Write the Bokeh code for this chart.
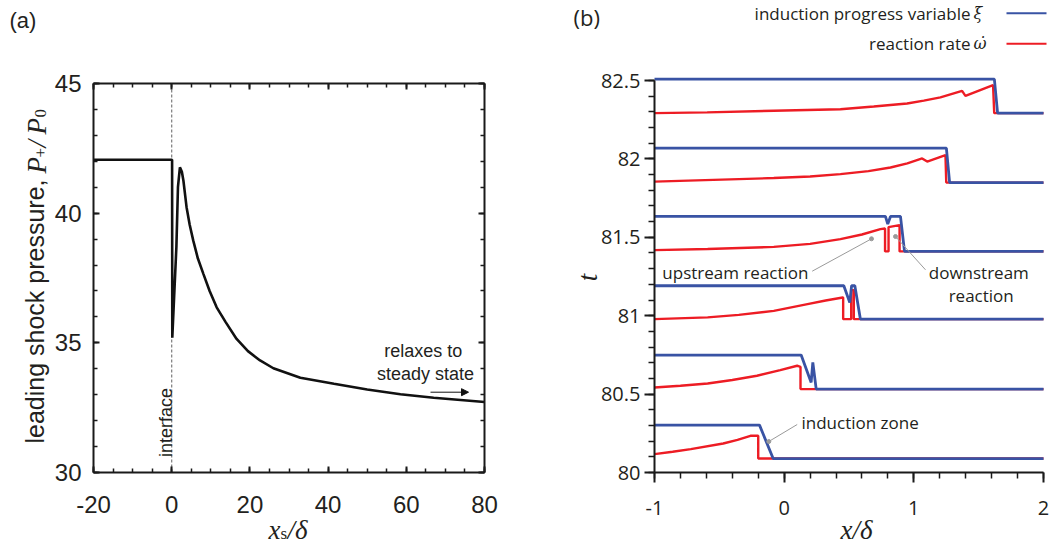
import numpy as np
from math import pi
from bokeh.plotting import figure
from bokeh.layouts import row
from bokeh.models import Range1d, LinearAxis, FixedTicker, Label, Arrow, NormalHead
from bokeh.embed import file_html
from bokeh.resources import INLINE

# ---------------- panel (a): leading shock pressure ----------------
xs_shock = [-20, 0.1, 0.15, 0.6, 1.2, 1.6, 2.1, 2.6, 3.0, 3.8, 4.6, 5.5, 6.7, 8.1, 9.7,
            11.5, 13.8, 16.6, 19.5, 22.6, 26, 32.9, 41.5, 50, 58.5, 67, 80]
p_shock = [42.06, 42.06, 35.2, 36.7, 38.7, 41.0, 41.77, 41.6, 41.25, 40.23, 39.55, 38.95,
           38.25, 37.66, 37.0, 36.37, 35.8, 35.15, 34.68, 34.32, 34.02, 33.65, 33.42,
           33.2, 33.02, 32.88, 32.72]
a_xticks = [-20, 0, 20, 40, 60, 80]
a_xtick_labels = ["-20", "0", "20", "40", "60", "80"]
a_yticks = [30, 35, 40, 45]
a_ytick_labels = ["30", "35", "40", "45"]
interface_x = 0

# ---------------- panel (b): snapshots ----------------
blue_x1 = [-1, -0.19, -0.085, 2]
blue_y1 = [80.302, 80.302, 80.089, 80.089]
red_x1 = [-1, -0.86, -0.72, -0.47, -0.36, -0.26, -0.2, -0.2, 2]
red_y1 = [80.117, 80.132, 80.149, 80.185, 80.208, 80.234, 80.234, 80.089, 80.089]

blue_x2 = [-1, 0.131, 0.208, 0.221, 0.247, 2]
blue_y2 = [80.749, 80.749, 80.574, 80.702, 80.532, 80.532]
red_x2 = [-1, -0.8, -0.59, -0.4, -0.21, -0.03, 0.1, 0.12, 0.126, 0.126, 2]
red_y2 = [80.542, 80.553, 80.568, 80.59, 80.617, 80.653, 80.681, 80.675, 80.675,
          80.532, 80.532]

blue_x3 = [-1, 0.46, 0.506, 0.52, 0.545, 0.588, 2]
blue_y3 = [81.191, 81.191, 81.084, 81.191, 81.191, 80.978, 80.978]
red_x3 = [-1, -0.59, -0.35, -0.08, 0.18, 0.32, 0.452, 0.455, 0.455, 0.517, 0.517,
          0.537, 0.537, 2]
red_y3 = [80.978, 80.989, 81.005, 81.031, 81.074, 81.097, 81.116, 81.116, 80.978,
          80.978, 81.163, 81.163, 80.978, 80.978]

blue_x4 = [-1, 0.781, 0.799, 0.82, 0.897, 0.928, 2]
blue_y4 = [81.633, 81.633, 81.584, 81.633, 81.633, 81.41, 81.41]
red_x4 = [-1, -0.59, -0.08, 0.2, 0.434, 0.6, 0.742, 0.778, 0.778, 0.805, 0.805,
          0.89, 0.89, 2]
red_y4 = [81.418, 81.425, 81.439, 81.458, 81.488, 81.518, 81.552, 81.556, 81.41,
          81.41, 81.565, 81.578, 81.41, 81.41]

blue_x5 = [-1, 1.251, 1.276, 2]
blue_y5 = [82.069, 82.069, 81.849, 81.849]
red_x5 = [-1, -0.08, 0.2, 0.434, 0.65, 0.82, 0.95, 1.064, 1.103, 1.244, 1.25, 2]
red_y5 = [81.855, 81.878, 81.888, 81.903, 81.922, 81.945, 81.972, 82.003, 81.983,
          82.024, 81.849, 81.849]

blue_x6 = [-1, 1.621, 1.646, 2]
blue_y6 = [82.509, 82.509, 82.292, 82.292]
red_x6 = [-1, -0.594, -0.08, 0.434, 0.691, 0.948, 1.077, 1.205, 1.372, 1.398, 1.611,
          1.62, 2]
red_y6 = [82.292, 82.297, 82.307, 82.317, 82.334, 82.353, 82.372, 82.392, 82.434,
          82.402, 82.471, 82.292, 82.292]

b_xticks = [-1, 0, 1, 2]
b_xtick_labels = ["-1", "0", "1", "2"]
b_yticks = [80, 80.5, 81, 81.5, 82, 82.5]
b_ytick_labels = ["80", "80.5", "81", "81.5", "82", "82.5"]

legend_labels = ["induction progress variable", "reaction rate"]
legend_symbols = ["ξ", "ω\u0307"]
BLUE = "#3953a4"
RED = "#ed1c24"
INK = "#231f20"
GREY = "#9a9a9a"

# ---------------- layout helpers (canvas pixel -> data) ----------------
H = 552
W1 = 520
W2 = 530
# panel (a) axes box: x 93..484, y 83..472
def ax_(px):
    return -20 + (px - 93) * 100.0 / 391.0
def ay_(py):
    return 45 - (py - 83) * 15.0 / 389.0
# panel (b) axes: x=-1 at 654, 389px per 3 units; y=80 at 472, 156.8 px/unit
def bx_(px):
    return -1 + (px - 654) * 3.0 / 389.0
def by_(py):
    return 80 + (472 - py) / 156.8

SANS = "Liberation Sans"
SERIF = "Liberation Serif"

def lab(p, x, y, text, font, size, align="left", baseline="middle", angle=0,
        style="normal", color=INK):
    p.add_layout(Label(x=x, y=y, text=text, text_font=font, text_font_size=size,
                       text_align=align, text_baseline=baseline, angle=angle,
                       text_font_style=style, text_color=color))

# ================= panel (a) =================
p1 = figure(width=W1, height=H, x_range=Range1d(ax_(0), ax_(W1)), y_range=Range1d(ay_(H), ay_(0)),
            output_backend="svg", toolbar_location=None, x_axis_location=None, y_axis_location=None,
            min_border=0, min_border_left=0, min_border_right=0, min_border_top=0, min_border_bottom=0)
p1.grid.visible = False
p1.outline_line_color = None

a_bottom = LinearAxis(fixed_location=30, bounds=(-20, 80))
a_top = LinearAxis(fixed_location=45, bounds=(-20, 80))
a_left = LinearAxis(fixed_location=-20, bounds=(30, 45))
a_right = LinearAxis(fixed_location=80, bounds=(30, 45))
p1.add_layout(a_bottom, "below")
p1.add_layout(a_top, "above")
p1.add_layout(a_left, "left")
p1.add_layout(a_right, "right")
for ax in (a_bottom, a_top):
    ax.ticker = FixedTicker(ticks=a_xticks, minor_ticks=list(np.arange(-20, 81, 5)))
for ax in (a_left, a_right):
    ax.ticker = FixedTicker(ticks=a_yticks, minor_ticks=list(np.arange(30, 46, 1)))
for ax in (a_bottom, a_top, a_left, a_right):
    ax.axis_line_width = 2
    ax.axis_line_color = "#1a1a1a"
    ax.major_tick_in = 6
    ax.major_tick_out = 0
    ax.minor_tick_in = 4
    ax.minor_tick_out = 0
    ax.major_tick_line_width = 2
    ax.minor_tick_line_width = 1.5
    ax.major_tick_line_color = "#1a1a1a"
    ax.minor_tick_line_color = "#1a1a1a"
    ax.major_label_text_font = SANS
    ax.major_label_text_font_size = "24px"
    ax.major_label_text_color = INK
a_bottom.major_label_overrides = dict(zip(a_xticks, a_xtick_labels))
a_left.major_label_overrides = dict(zip(a_yticks, a_ytick_labels))
a_top.major_label_overrides = {t: "" for t in a_xticks}
a_right.major_label_overrides = {t: "" for t in a_yticks}
a_bottom.major_label_standoff = 23
a_left.major_label_standoff = 12

# dashed interface line, spanning the axes box only
p1.line([interface_x, interface_x], [a_yticks[0], a_yticks[-1]], line_color="#7a7a7a",
        line_dash="3 2", line_width=1.2)
p1.line(xs_shock, p_shock, line_color="#111111", line_width=2.6)

p1.add_layout(Arrow(end=NormalHead(size=7, line_color="#111111", fill_color="#111111", line_width=1),
                    x_start=ax_(430), y_start=ay_(391.7), x_end=ax_(468), y_end=ay_(391.7),
                    line_color="#111111", line_width=1))

lab(p1, ax_(422.7), ay_(350), "relaxes to", SANS, "18px", align="center")
lab(p1, ax_(425), ay_(373), "steady state", SANS, "18px", align="center")
lab(p1, ax_(165), ay_(422), "interface", SANS, "18px", align="center",
    baseline="alphabetic", angle=pi / 2)
lab(p1, ax_(9), ay_(20), "(a)", SANS, "22px")
# y axis label (sans text + italic serif math)
lab(p1, ax_(34), ay_(179), "leading shock pressure,", SANS, "25px", align="right",
    baseline="alphabetic", angle=pi / 2)
lab(p1, ax_(36), ay_(173), "P", SERIF, "27px", baseline="alphabetic", angle=pi / 2, style="italic")
lab(p1, ax_(40), ay_(157), "+", SERIF, "17px", baseline="alphabetic", angle=pi / 2)
lab(p1, ax_(36), ay_(147), "/", SERIF, "27px", baseline="alphabetic", angle=pi / 2, style="italic")
lab(p1, ax_(36), ay_(134), "P", SERIF, "27px", baseline="alphabetic", angle=pi / 2, style="italic")
lab(p1, ax_(40), ay_(117), "0", SERIF, "17px", baseline="alphabetic", angle=pi / 2)
# x axis label
lab(p1, ax_(268), ay_(529), "x", SERIF, "27px", baseline="alphabetic", style="italic")
lab(p1, ax_(280), ay_(533), "s", SERIF, "17px", baseline="alphabetic")
lab(p1, ax_(287), ay_(529), "/δ", SERIF, "27px", baseline="alphabetic", style="italic")

# ================= panel (b) =================
p2 = figure(width=W2, height=H, x_range=Range1d(bx_(W1), bx_(W1 + W2)), y_range=Range1d(by_(H), by_(0)),
            output_backend="svg", toolbar_location=None, x_axis_location=None, y_axis_location=None,
            min_border=0, min_border_left=0, min_border_right=0, min_border_top=0, min_border_bottom=0)
p2.grid.visible = False
p2.outline_line_color = None
b_bottom = LinearAxis(fixed_location=80, bounds=(-1, 2))
b_left = LinearAxis(fixed_location=-1, bounds=(80, 82.5))
p2.add_layout(b_bottom, "below")
p2.add_layout(b_left, "left")
b_bottom.ticker = FixedTicker(ticks=b_xticks, minor_ticks=[round(v, 2) for v in np.arange(-1, 2.01, 0.2)])
b_left.ticker = FixedTicker(ticks=b_yticks, minor_ticks=[round(v, 2) for v in np.arange(80, 82.51, 0.1)])
b_bottom.major_label_overrides = dict(zip(b_xticks, b_xtick_labels))
b_left.major_label_overrides = dict(zip(b_yticks, b_ytick_labels))
for ax in (b_bottom, b_left):
    ax.axis_line_width = 2
    ax.axis_line_color = "#1a1a1a"
    ax.major_tick_in = 0
    ax.major_tick_out = 10
    ax.minor_tick_in = 0
    ax.minor_tick_out = 6
    ax.major_tick_line_width = 2
    ax.minor_tick_line_width = 1.5
    ax.major_tick_line_color = "#1a1a1a"
    ax.minor_tick_line_color = "#1a1a1a"
    ax.major_label_text_font = "Open Sans"
    ax.major_label_text_font_size = "20px"
    ax.major_label_text_color = INK
b_bottom.major_label_standoff = 18
b_left.major_label_standoff = 4

reds = [(red_x1, red_y1), (red_x2, red_y2), (red_x3, red_y3),
        (red_x4, red_y4), (red_x5, red_y5), (red_x6, red_y6)]
blues = [(blue_x1, blue_y1), (blue_x2, blue_y2), (blue_x3, blue_y3),
         (blue_x4, blue_y4), (blue_x5, blue_y5), (blue_x6, blue_y6)]
for (rx, ry), (bx, by) in zip(reds, blues):
    p2.line(rx, ry, line_color=RED, line_width=2.4)
    p2.line(bx, by, line_color=BLUE, line_width=2.8)

# legend (text left of sample line)
for txt, sym, yy, col in zip(legend_labels, legend_symbols, [12.7, 43.3], [BLUE, RED]):
    lab(p2, bx_(970), by_(yy), txt, "Open Sans", "17px", align="right")
    lab(p2, bx_(973), by_(yy), sym, "DejaVu Serif", "16px", align="left", style="italic")
    p2.segment(x0=[bx_(1006)], y0=[by_(yy)], x1=[bx_(1046)], y1=[by_(yy)], line_color=col, line_width=2)

# annotations
lab(p2, bx_(808), by_(271.7), "upstream reaction", "Open Sans", "17px", align="right")
lab(p2, bx_(978.3), by_(271.7), "downstream", "Open Sans", "17px", align="center")
lab(p2, bx_(980.7), by_(295), "reaction", "Open Sans", "17px", align="center")
lab(p2, bx_(801), by_(421.7), "induction zone", "Open Sans", "17px", align="left")
p2.segment(x0=[bx_(811.7), bx_(925), bx_(796.7)], y0=[by_(270.7), by_(269.3), by_(424)],
           x1=[bx_(871), bx_(895), bx_(768.3)], y1=[by_(238.3), by_(236), by_(441)],
           line_color=GREY, line_width=1)
p2.scatter([bx_(871), bx_(895), bx_(768.3)], [by_(238.3), by_(236), by_(441)],
           size=4, color=GREY)

lab(p2, bx_(573), by_(16.5), "(b)", "Open Sans", "22px")
lab(p2, bx_(587), by_(277), "t", SERIF, "27px", align="center", baseline="alphabetic",
    angle=pi / 2, style="italic")
lab(p2, bx_(840), by_(529), "x/δ", SERIF, "27px", baseline="alphabetic", style="italic")

layout = row(p1, p2)
open("out.html", "w").write(file_html(layout, INLINE))
